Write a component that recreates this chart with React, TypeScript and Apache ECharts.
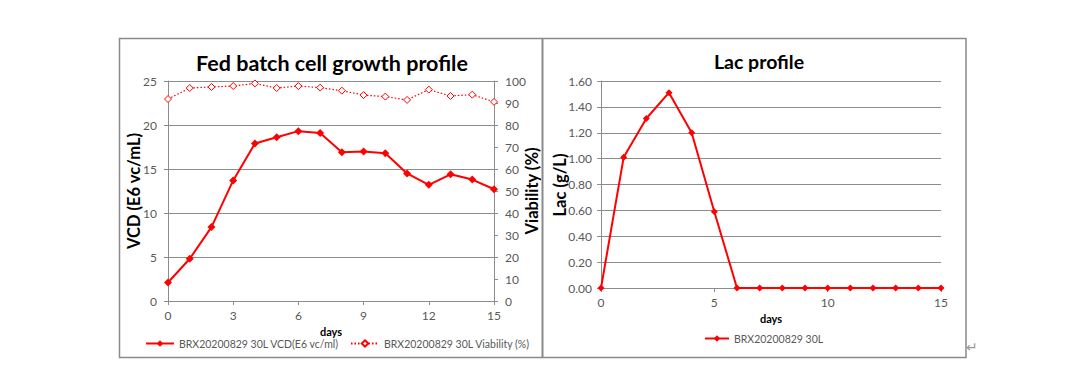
import React, { useEffect, useRef } from "react";
import * as echarts from "echarts";

const days = [0, 1, 2, 3, 4, 5, 6, 7, 8, 9, 10, 11, 12, 13, 14, 15];
const vcd = [2.1, 4.8, 8.4, 13.7, 17.9, 18.6, 19.3, 19.1, 16.9, 17.0, 16.8, 14.5, 13.2, 14.4, 13.8, 12.7];
const viability = [91.8, 96.8, 97.3, 97.7, 98.9, 96.8, 97.7, 97.0, 95.6, 93.6, 92.9, 91.4, 96.1, 93.2, 93.8, 90.5];
const lac = [0, 1.01, 1.31, 1.51, 1.2, 0.59, 0, 0, 0, 0, 0, 0, 0, 0, 0, 0];

const vcdName = "BRX20200829 30L VCD(E6 vc/ml)";
const viaName = "BRX20200829 30L Viability (%)";
const lacName = "BRX20200829 30L";

const FONT = "Lato, 'Open Sans', sans-serif";
const RED = "#ff0000";
const GRID = "#8c8c8c";
const LABEL = "#595959";

export default function App() {
  const ref = useRef<HTMLDivElement>(null);
  useEffect(() => {
    if (!ref.current) return;
    const chart = echarts.init(ref.current, null, { renderer: "svg" });
    const axisLabel = { color: LABEL, fontSize: 12, fontFamily: FONT };
    const axisLine = { show: true, lineStyle: { color: GRID, width: 1 } };
    const axisTick = { show: true, length: 4, lineStyle: { color: GRID } };
    const daysName = { color: "#000", fontSize: 11, fontWeight: "bold" as const, fontFamily: FONT };
    const legendText = { fontSize: 10.5, color: LABEL, fontFamily: FONT };
    const axisNameText = (text: string, x: number, y: number) => ({
      type: "text", x, y, rotation: Math.PI / 2,
      style: { text, fill: "#000", fontSize: 16.5, fontWeight: "bold", fontFamily: FONT, align: "center", verticalAlign: "middle" },
    });
    chart.setOption({
      animation: false,
      backgroundColor: "#fff",
      textStyle: { fontFamily: FONT },
      title: [
        { text: "Fed batch cell growth profile", left: 327, top: 47, textAlign: "center",
          textStyle: { fontSize: 21.5, fontWeight: "bold", color: "#000", fontFamily: FONT } },
        { text: "Lac profile", left: 754, top: 46, textAlign: "center",
          textStyle: { fontSize: 19.5, fontWeight: "bold", color: "#000", fontFamily: FONT } },
      ],
      legend: [
        { data: [vcdName], left: 145, top: 338, padding: 0, itemWidth: 28, itemHeight: 8, textStyle: legendText },
        { data: [viaName], left: 350, top: 338, padding: 0, itemWidth: 28, itemHeight: 8, textStyle: legendText },
        { data: [lacName], left: 704, top: 333, padding: 0, itemWidth: 24, itemHeight: 8, textStyle: legendText },
      ],
      grid: [
        { left: 168, top: 81, width: 326, height: 220, containLabel: false },
        { left: 601, top: 81, width: 340, height: 207, containLabel: false },
      ],
      xAxis: [
        { type: "value", gridIndex: 0, min: 0, max: 15, interval: 3, name: "days", nameLocation: "middle", nameGap: 15,
          nameTextStyle: daysName, axisLabel, axisLine, axisTick, splitLine: { show: false } },
        { type: "value", gridIndex: 1, min: 0, max: 15, interval: 5, name: "days", nameLocation: "middle", nameGap: 20,
          nameTextStyle: daysName, axisLabel, axisLine, axisTick, splitLine: { show: false } },
      ],
      yAxis: [
        { type: "value", gridIndex: 0, min: 0, max: 25, interval: 5,
          axisLabel: { ...axisLabel, margin: 11 }, axisLine, axisTick,
          splitLine: { show: true, lineStyle: { color: GRID, width: 1 } } },
        { type: "value", gridIndex: 0, position: "right", min: 0, max: 100, interval: 10,
          axisLabel: { ...axisLabel, margin: 11 }, axisLine, axisTick, splitLine: { show: false } },
        { type: "value", gridIndex: 1, min: 0, max: 1.6, interval: 0.2,
          axisLabel: { ...axisLabel, margin: 9, formatter: (v: number) => v.toFixed(2) }, axisLine, axisTick,
          splitLine: { show: true, lineStyle: { color: GRID, width: 1 } } },
      ],
      series: [
        { name: vcdName, type: "line", xAxisIndex: 0, yAxisIndex: 0, data: days.map((d, i) => [d, vcd[i]]),
          symbol: "diamond", symbolSize: 8, lineStyle: { color: RED, width: 2 }, itemStyle: { color: RED } },
        { name: viaName, type: "line", xAxisIndex: 0, yAxisIndex: 1, data: days.map((d, i) => [d, viability[i]]),
          symbol: "diamond", symbolSize: 7, showAllSymbol: true,
          lineStyle: { color: RED, width: 1.2, type: [1.5, 2] },
          itemStyle: { color: "#fff", borderColor: RED, borderWidth: 1 } },
        { name: lacName, type: "line", xAxisIndex: 1, yAxisIndex: 2, data: days.map((d, i) => [d, lac[i]]),
          symbol: "diamond", symbolSize: 7, lineStyle: { color: RED, width: 2 }, itemStyle: { color: RED } },
      ],
      graphic: [
        axisNameText("VCD (E6 vc/mL)", 134, 191),
        axisNameText("Viability (%)", 532, 191),
        axisNameText("Lac (g/L)", 560, 185),
        { type: "rect", shape: { x: 119.5, y: 38.5, width: 846.5, height: 319 }, style: { fill: "none", stroke: "#8a8a8a", lineWidth: 1.5 }, z: 100 },
        { type: "line", shape: { x1: 542.5, y1: 38, x2: 542.5, y2: 358 }, style: { stroke: "#8a8a8a", lineWidth: 2 }, z: 100 },
        { type: "text", x: 966, y: 340, style: { text: "↵", fill: "#9a9a9a", fontSize: 14, fontFamily: "DejaVu Sans" } },
      ],
    });
    return () => chart.dispose();
  }, []);
  return <div ref={ref} style={{ position: "fixed", left: 0, top: 0, width: 1089, height: 392 }} />;
}
